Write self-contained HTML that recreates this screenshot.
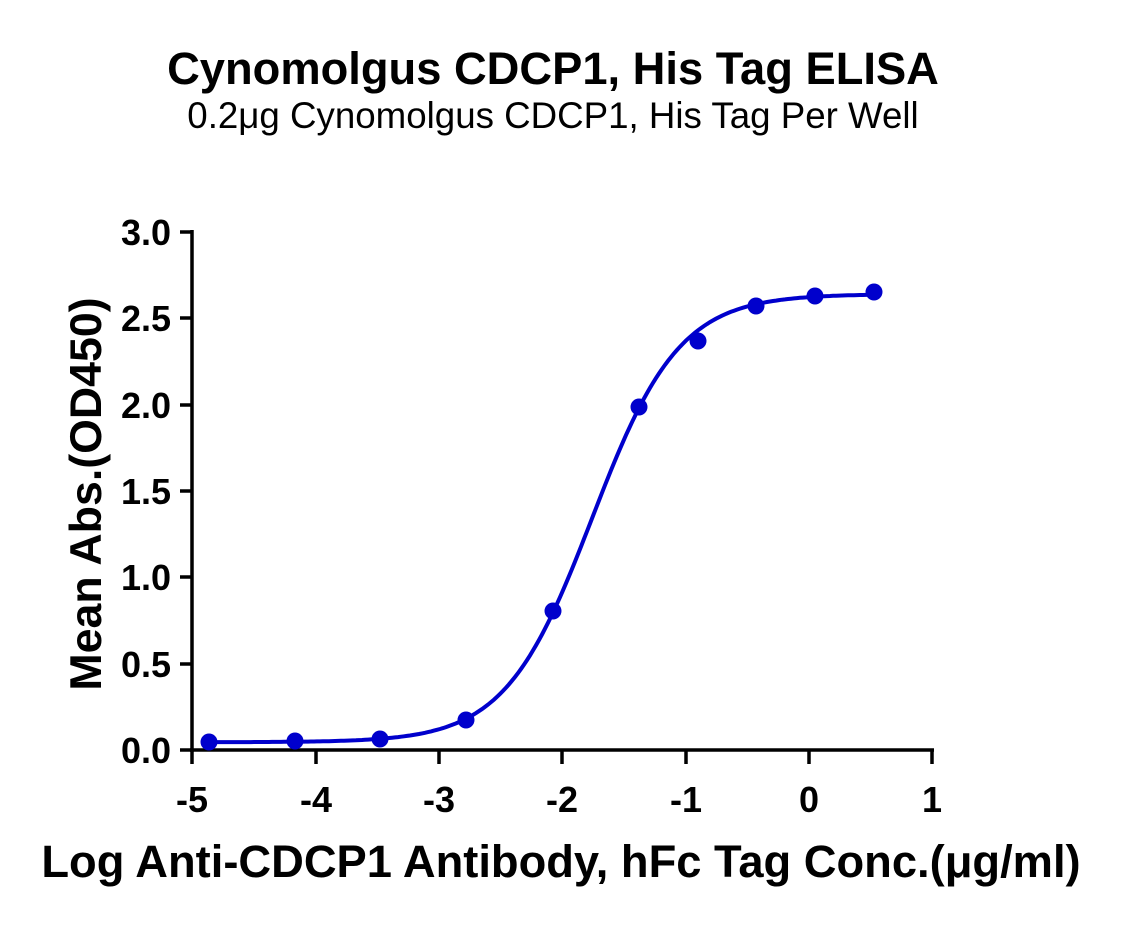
<!DOCTYPE html>
<html><head><meta charset="utf-8"><style>
html,body{margin:0;padding:0;background:#fff;}
svg{display:block;}
text{font-family:"Liberation Sans",Arial,sans-serif;fill:#000;}
</style></head><body>
<svg id="s" width="1124" height="928" viewBox="0 0 1124 928">
<text x="553" y="84" font-size="45.3" font-weight="bold" text-anchor="middle">Cynomolgus CDCP1, His Tag ELISA</text>
<text x="553" y="128" font-size="36.7" text-anchor="middle">0.2μg Cynomolgus CDCP1, His Tag Per Well</text>
<g stroke="#000" stroke-width="3.5" fill="none">
<line x1="192" y1="230" x2="192" y2="752"/>
<line x1="190" y1="750" x2="934" y2="750"/>
<line x1="180" y1="232" x2="192" y2="232"/>
<line x1="180" y1="318" x2="192" y2="318"/>
<line x1="180" y1="405" x2="192" y2="405"/>
<line x1="180" y1="491" x2="192" y2="491"/>
<line x1="180" y1="577" x2="192" y2="577"/>
<line x1="180" y1="664" x2="192" y2="664"/>
<line x1="180" y1="750" x2="192" y2="750"/>
<line x1="192" y1="750" x2="192" y2="764"/>
<line x1="316" y1="750" x2="316" y2="764"/>
<line x1="439" y1="750" x2="439" y2="764"/>
<line x1="562" y1="750" x2="562" y2="764"/>
<line x1="686" y1="750" x2="686" y2="764"/>
<line x1="809" y1="750" x2="809" y2="764"/>
<line x1="932" y1="750" x2="932" y2="764"/>
</g>
<g font-size="36" font-weight="bold" text-anchor="end">
<text x="171" y="245">3.0</text><text x="171" y="331">2.5</text><text x="171" y="418">2.0</text>
<text x="171" y="504">1.5</text><text x="171" y="590">1.0</text><text x="171" y="677">0.5</text><text x="171" y="763">0.0</text>
</g>
<g font-size="36" font-weight="bold" text-anchor="middle">
<text x="192" y="812">-5</text><text x="316" y="812">-4</text><text x="439" y="812">-3</text>
<text x="562" y="812">-2</text><text x="686" y="812">-1</text><text x="809" y="812">0</text><text x="932" y="812">1</text>
</g>
<text x="561" y="877" font-size="45.3" font-weight="bold" text-anchor="middle">Log Anti-CDCP1 Antibody, hFc Tag Conc.(μg/ml)</text>
<text transform="translate(101,494) rotate(-90)" font-size="44.7" font-weight="bold" text-anchor="middle">Mean Abs.(OD450)</text>
<path id="c" fill="none" stroke="#0000cc" stroke-width="4"/>
<g fill="#0000cc">
<circle cx="209" cy="742" r="8.5"/><circle cx="295" cy="741" r="8.5"/><circle cx="380" cy="739" r="8.5"/>
<circle cx="466" cy="720" r="8.5"/><circle cx="553" cy="611" r="8.5"/><circle cx="639" cy="407" r="8.5"/>
<circle cx="698" cy="341" r="8.5"/><circle cx="756" cy="306" r="8.5"/><circle cx="815" cy="296" r="8.5"/>
<circle cx="874" cy="292" r="8.5"/>
</g>
</svg>
<script>
var d="",B=0.045,T=2.64,c=-1.755,h=1.229;
for(var px=209;px<=874;px+=3){var x=-5+(px-192)/123.3;var y=B+(T-B)/(1+Math.pow(10,(c-x)*h));d+=(d?"L":"M")+px+","+(750-y*172.7).toFixed(1);}
document.getElementById("c").setAttribute("d",d);
</script>
</body></html>
